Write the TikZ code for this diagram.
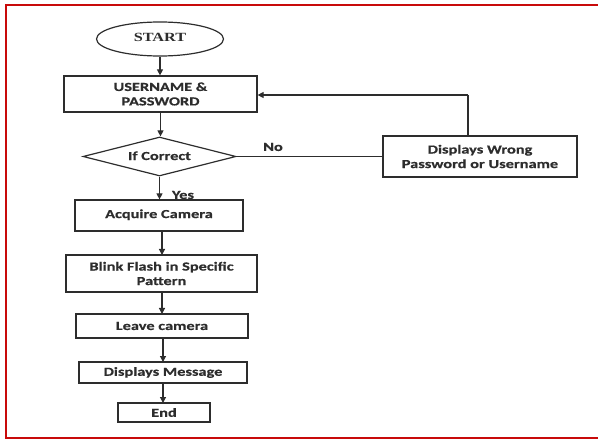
\documentclass[tikz,border=0pt]{standalone}
\usepackage{fontspec}
\setmainfont{Carlito}
\newfontfamily\boxfont[FakeStretch=1.33,FakeBold=0.6]{Carlito}
\newfontfamily\startfont[FakeStretch=1.3]{Liberation Serif}
\usetikzlibrary{shapes.geometric,arrows.meta}
\definecolor{brd}{RGB}{200,10,10}
\definecolor{ink}{RGB}{45,45,45}
\tikzset{
  box/.style={draw=ink, line width=1.2pt, rectangle, inner sep=0pt, align=center, text=ink,
    font=\boxfont\bfseries\fontsize{12.3}{14.5}\selectfont},
  arr/.style={draw=ink, line width=1.2pt, -{Triangle[length=6pt,width=6pt]}},
  lnk/.style={draw=ink, line width=1.2pt},
  lbl/.style={text=ink, font=\boxfont\bfseries\fontsize{12.3}{13}\selectfont, inner sep=0pt}
}
\begin{document}
\begin{tikzpicture}[x=1pt,y=-1pt]
\useasboundingbox (0,0) rectangle (598,441);
\draw[brd, line width=2pt] (598,5) -- (6,5) -- (6,438) -- (598,438);
\node[box, ellipse, minimum width=127pt, minimum height=34pt,
  font=\startfont\bfseries\fontsize{12.5}{13}\selectfont] (start) at (160,39) {\raisebox{3pt}{START}};
\node[box, minimum width=193pt, minimum height=36pt] (user) at (160.5,94) {USERNAME \&\\PASSWORD};
\node[box, diamond, aspect=3.9, minimum width=153pt, minimum height=39pt] (dec) at (159.5,156.5) {\raisebox{1.5pt}{If Correct}};
\node[box, minimum width=194pt, minimum height=41pt] (wrong) at (480,156.5) {Displays Wrong\\Password or Username};
\node[box, minimum width=168pt, minimum height=31pt] (acq) at (159,215.5) {\raisebox{3.5pt}{Acquire Camera}};
\node[box, minimum width=191pt, minimum height=37pt] (blink) at (161.5,273.5) {Blink Flash in Specific\\Pattern};
\node[box, minimum width=172pt, minimum height=24pt] (leave) at (162,326) {Leave camera};
\node[box, minimum width=168pt, minimum height=21pt] (msg) at (163,372.5) {Displays Message};
\node[box, minimum width=92pt, minimum height=19pt] (end) at (164,412.5) {End};
\coordinate (fb) at (468,95);
\draw[arr] (start.south) -- (start.south |- user.north);
\draw[arr] (user.south) -- (user.south |- dec.north);
\draw[arr] (dec.south) -- (dec.south |- acq.north);
\draw[arr] (162,231) -- (162,255);
\draw[arr] (162,292) -- (162,314);
\draw[arr] (163,338) -- (163,362);
\draw[arr] (163,383) -- (163,403);
\draw[lnk] (dec.east) -- (wrong.west);
\draw[lnk] (fb |- wrong.north) -- (fb);
\draw[arr] (fb) -- (fb -| user.east);
\node[lbl] (no) at (273,147) {No};
\node[lbl] (yes) at (183,195) {Yes};
\end{tikzpicture}
\end{document}
